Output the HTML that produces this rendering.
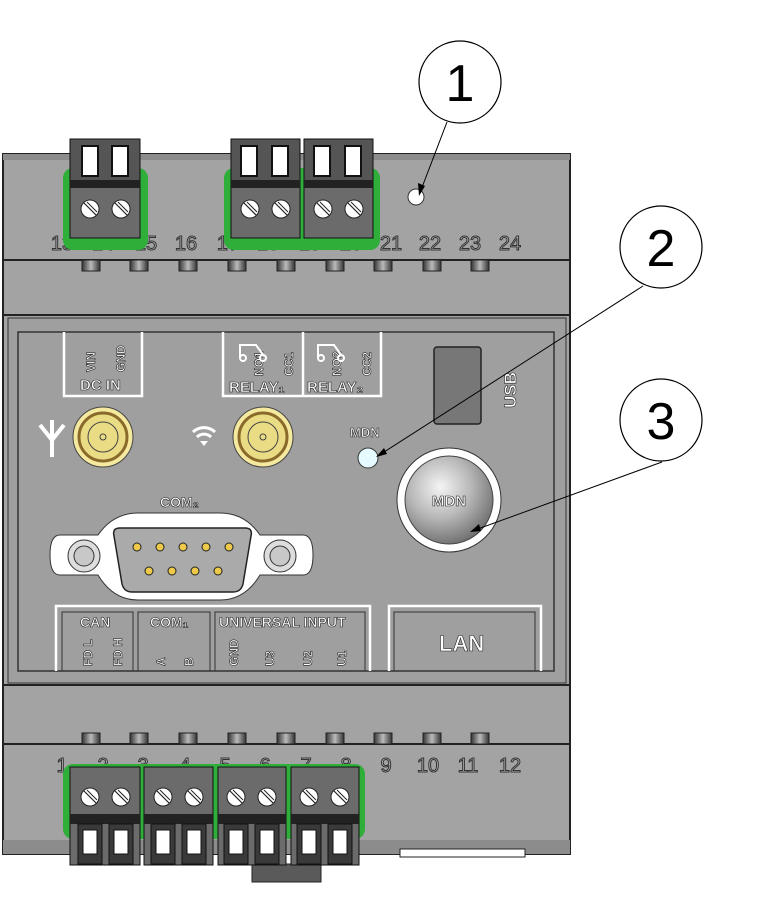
<!DOCTYPE html>
<html><head><meta charset="utf-8"><style>
html,body{margin:0;padding:0;background:#fff}
svg{display:block}
text{font-family:"Liberation Sans",sans-serif}
</style></head><body>
<svg width="759" height="909" viewBox="0 0 759 909" xmlns="http://www.w3.org/2000/svg">
<defs>
<radialGradient id="btn" cx="0.4" cy="0.35" r="0.7"><stop offset="0" stop-color="#f4f4f4"/><stop offset="0.5" stop-color="#b8b8b8"/><stop offset="1" stop-color="#6a6a6a"/></radialGradient>
<linearGradient id="peg" x1="0" x2="1"><stop offset="0" stop-color="#333"/><stop offset="0.5" stop-color="#bbb"/><stop offset="1" stop-color="#333"/></linearGradient>
<g id="scr"><circle r="9" fill="#fff" stroke="#222" stroke-width="1"/><line x1="-6" y1="-6" x2="6" y2="6" stroke="#222" stroke-width="1.2"/><line x1="-3" y1="-7" x2="7" y2="3" stroke="#222" stroke-width="1"/></g>
<g id="sock"><rect x="-12" y="0" width="24" height="40" fill="#3a3a3a" stroke="#111"/><rect x="-7" y="6" width="14" height="24" fill="#fff" stroke="#111"/></g>
</defs>
<rect x="3" y="154" width="567" height="700" fill="#a3a3a3" stroke="#222" stroke-width="2"/>
<line x1="3" y1="260" x2="570" y2="260" stroke="#222" stroke-width="2"/>
<line x1="3" y1="315" x2="570" y2="315" stroke="#222" stroke-width="2"/>
<rect x="8" y="318" width="558" height="365" fill="#9f9f9f" stroke="#333"/>
<line x1="3" y1="685" x2="570" y2="685" stroke="#222" stroke-width="2"/>
<line x1="3" y1="744" x2="570" y2="744" stroke="#222" stroke-width="2"/>
<rect x="3" y="154" width="567" height="6" fill="#8c8c8c"/>
<rect x="3" y="840" width="567" height="14" fill="#8c8c8c"/>
<rect x="400" y="849" width="125" height="8" fill="#fff" stroke="#222"/>
<rect x="252" y="864" width="69" height="18" fill="#5a5a5a" stroke="#222"/>
<g fill="url(#peg)" stroke="#222">
<rect x="82" y="260" width="18" height="11"/><rect x="130" y="260" width="18" height="11"/><rect x="179" y="260" width="18" height="11"/><rect x="228" y="260" width="18" height="11"/><rect x="277" y="260" width="18" height="11"/><rect x="326" y="260" width="18" height="11"/><rect x="374" y="260" width="18" height="11"/><rect x="423" y="260" width="18" height="11"/><rect x="471" y="260" width="18" height="11"/>
<rect x="82" y="733" width="18" height="11"/><rect x="130" y="733" width="18" height="11"/><rect x="179" y="733" width="18" height="11"/><rect x="228" y="733" width="18" height="11"/><rect x="277" y="733" width="18" height="11"/><rect x="326" y="733" width="18" height="11"/><rect x="374" y="733" width="18" height="11"/><rect x="423" y="733" width="18" height="11"/><rect x="471" y="733" width="18" height="11"/>
</g>
<g font-size="20" fill="#b5b5b5" stroke="#333" stroke-width="1" text-anchor="middle">
<text x="62" y="250">13</text><text x="103" y="250">14</text><text x="146" y="250">15</text><text x="186" y="250">16</text><text x="228" y="250">17</text><text x="268" y="250">18</text><text x="310" y="250">19</text><text x="351" y="250">20</text><text x="391" y="250">21</text><text x="430" y="250">22</text><text x="470" y="250">23</text><text x="510" y="250">24</text>
<text x="62" y="772">1</text><text x="103" y="772">2</text><text x="143" y="772">3</text><text x="185" y="772">4</text><text x="225" y="772">5</text><text x="265" y="772">6</text><text x="306" y="772">7</text><text x="346" y="772">8</text><text x="386" y="772">9</text><text x="428" y="772">10</text><text x="468" y="772">11</text><text x="510" y="772">12</text>
</g>
<rect x="63" y="168" width="85" height="82" rx="10" fill="#2fae3a"/>
<rect x="224" y="168" width="156" height="82" rx="10" fill="#2fae3a"/>
<g>
<rect x="70" y="139" width="70" height="44" fill="#555" stroke="#111"/>
<rect x="70" y="182" width="70" height="56" fill="#6b6b6b" stroke="#111"/>
<rect x="70" y="180" width="70" height="8" fill="#222"/>
<rect x="231" y="139" width="69" height="44" fill="#555" stroke="#111"/>
<rect x="231" y="182" width="69" height="56" fill="#6b6b6b" stroke="#111"/>
<rect x="231" y="180" width="69" height="8" fill="#222"/>
<rect x="304" y="139" width="69" height="44" fill="#555" stroke="#111"/>
<rect x="304" y="182" width="69" height="56" fill="#6b6b6b" stroke="#111"/>
<rect x="304" y="180" width="69" height="8" fill="#222"/>
</g>
<g fill="#fff" stroke="#111" stroke-width="2">
<rect x="82" y="146" width="16" height="30"/><rect x="112" y="146" width="16" height="30"/>
<rect x="241" y="146" width="16" height="30"/><rect x="272" y="146" width="16" height="30"/>
<rect x="314" y="146" width="16" height="30"/><rect x="345" y="146" width="16" height="30"/>
</g>
<use href="#scr" x="90" y="209"/><use href="#scr" x="121" y="209"/>
<use href="#scr" x="250" y="209"/><use href="#scr" x="281" y="209"/>
<use href="#scr" x="323" y="209"/><use href="#scr" x="354" y="209"/>
<circle cx="416" cy="197" r="8" fill="#fff" stroke="#333"/>
<rect x="18" y="332" width="536" height="339" fill="none" stroke="#333" stroke-width="1.5"/>
<g fill="none" stroke="#fff" stroke-width="2.5">
<polyline points="64,332 64,396 142,396 142,332"/>
<polyline points="223,332 223,396 381,396 381,332"/>
<line x1="303" y1="332" x2="303" y2="396"/>
<polyline points="56,671 56,606 370,606 370,671"/>
<polyline points="389,671 389,606 541,606 541,671"/>
</g>
<g fill="none" stroke="#333" stroke-width="1">
<polyline points="62,671 62,612 133,612 133,671"/><polyline points="138,671 138,612 210,612 210,671"/><polyline points="215,671 215,612 365,612 365,671"/>
<polyline points="394,671 394,612 535,612 535,671"/>
</g>
<g fill="#fff" stroke="#222" stroke-width="0.6" font-weight="bold">
<text x="80" y="390" font-size="15">DC IN</text>
<text transform="translate(95,372) rotate(-90)" font-size="12">VIN</text>
<text transform="translate(125,372) rotate(-90)" font-size="12">GND</text>
<text x="229" y="392" font-size="15">RELAY₁</text>
<text x="307" y="392" font-size="15">RELAY₂</text>
<text transform="translate(263,376) rotate(-90)" font-size="12">NO1</text>
<text transform="translate(293,376) rotate(-90)" font-size="12">CC1</text>
<text transform="translate(341,376) rotate(-90)" font-size="12">NO2</text>
<text transform="translate(371,376) rotate(-90)" font-size="12">CC2</text>
<text transform="translate(516,408) rotate(-90)" font-size="17">USB</text>
<text x="80" y="627" font-size="14">CAN</text>
<text x="150" y="627" font-size="14">COM₁</text>
<text x="219" y="627" font-size="14">UNIVERSAL INPUT</text>
<text transform="translate(92,666) rotate(-90)" font-size="12">FD L</text>
<text transform="translate(122,666) rotate(-90)" font-size="12">FD H</text>
<text transform="translate(165,666) rotate(-90)" font-size="12">A</text>
<text transform="translate(193,666) rotate(-90)" font-size="12">B</text>
<text transform="translate(238,666) rotate(-90)" font-size="12">GND</text>
<text transform="translate(274,666) rotate(-90)" font-size="12">U3</text>
<text transform="translate(312,666) rotate(-90)" font-size="12">U2</text>
<text transform="translate(346,666) rotate(-90)" font-size="12">U1</text>
<text x="439" y="651" font-size="22">LAN</text>
<text x="350" y="437" font-size="13">MDN</text>
<text x="160" y="507" font-size="14">COM₂</text>
</g>
<g fill="none" stroke="#fff" stroke-width="2">
<polyline points="240,358 240,345 256,345 264,356"/><circle cx="243" cy="358" r="3"/><circle cx="263" cy="358" r="3"/>
<polyline points="318,358 318,345 334,345 342,356"/><circle cx="321" cy="358" r="3"/><circle cx="341" cy="358" r="3"/>
</g>
<rect x="434" y="347" width="47" height="77" rx="3" fill="#777" stroke="#222" stroke-width="1.5"/>
<g stroke="#fff" stroke-width="4" fill="none"><line x1="52" y1="420" x2="52" y2="457"/><polyline points="40,425 52,440 64,425"/></g>
<path d="M193,432 a16,16 0 0 1 22,0 M197,437 a10,10 0 0 1 14,0" stroke="#fff" stroke-width="3" fill="none"/><path d="M200,441 l4,5 4,-5z" fill="#fff"/>
<g stroke="#444"><circle cx="103" cy="437" r="30" fill="#f5e9a0"/><circle cx="103" cy="437" r="24" fill="#eadc84" stroke="#8a6a2a" stroke-width="3"/><circle cx="103" cy="437" r="15" fill="none"/><circle cx="103" cy="437" r="3" fill="none"/>
<circle cx="263" cy="437" r="30" fill="#f5e9a0"/><circle cx="263" cy="437" r="24" fill="#eadc84" stroke="#8a6a2a" stroke-width="3"/><circle cx="263" cy="437" r="15" fill="none"/><circle cx="263" cy="437" r="3" fill="none"/></g>
<circle cx="368" cy="458" r="10" fill="#e6fbff" stroke="#333"/>
<circle cx="449" cy="500" r="52" fill="#fff" stroke="#333"/>
<circle cx="449" cy="500" r="44" fill="url(#btn)" stroke="#444"/>
<text x="449" y="506" font-size="15" font-weight="bold" text-anchor="middle" fill="#fff" stroke="#222" stroke-width="0.6">MDN</text>
<path d="M60,535 h38 q15,-22 40,-22 h82 q25,0 40,22 h43 q10,0 10,20 q0,20 -10,20 h-43 q-15,25 -40,25 h-82 q-25,0 -40,-25 h-38 q-10,0 -10,-20 q0,-20 10,-20z" fill="#fff" stroke="#333"/>
<path d="M120,528 h125 q8,0 6,8 l-8,48 q-2,8 -10,8 h-101 q-8,0 -10,-8 l-8,-48 q-2,-8 6,-8z" fill="#aaa" stroke="#222" stroke-width="1.5"/>
<g fill="#eec94a" stroke="#222"><circle cx="137" cy="547" r="4"/><circle cx="160" cy="547" r="4"/><circle cx="183" cy="547" r="4"/><circle cx="206" cy="547" r="4"/><circle cx="229" cy="547" r="4"/><circle cx="149" cy="571" r="4"/><circle cx="172" cy="571" r="4"/><circle cx="195" cy="571" r="4"/><circle cx="218" cy="571" r="4"/></g>
<g fill="#ddd" stroke="#333"><circle cx="84" cy="556" r="16"/><circle cx="84" cy="556" r="10" fill="#c8c8c8"/><circle cx="280" cy="556" r="16"/><circle cx="280" cy="556" r="10" fill="#c8c8c8"/></g>
<rect x="63" y="764" width="302" height="75" rx="10" fill="#2fae3a"/>
<g>
<rect x="70" y="767" width="70" height="98" fill="#6b6b6b" stroke="#111"/><rect x="144" y="767" width="69" height="98" fill="#6b6b6b" stroke="#111"/><rect x="218" y="767" width="68" height="98" fill="#6b6b6b" stroke="#111"/><rect x="291" y="767" width="68" height="98" fill="#6b6b6b" stroke="#111"/>
<rect x="70" y="814" width="70" height="10" fill="#222"/><rect x="144" y="814" width="69" height="10" fill="#222"/><rect x="218" y="814" width="68" height="10" fill="#222"/><rect x="291" y="814" width="68" height="10" fill="#222"/>
</g>
<use href="#sock" x="90" y="824"/><use href="#sock" x="121" y="824"/><use href="#sock" x="163" y="824"/><use href="#sock" x="194" y="824"/><use href="#sock" x="236" y="824"/><use href="#sock" x="267" y="824"/><use href="#sock" x="309" y="824"/><use href="#sock" x="340" y="824"/>
<use href="#scr" x="90" y="797"/><use href="#scr" x="121" y="797"/><use href="#scr" x="163" y="797"/><use href="#scr" x="194" y="797"/><use href="#scr" x="236" y="797"/><use href="#scr" x="267" y="797"/><use href="#scr" x="309" y="797"/><use href="#scr" x="340" y="797"/>
<g stroke="#000" stroke-width="1" fill="none">
<line x1="447" y1="122" x2="421" y2="190"/>
<line x1="643" y1="286" x2="381" y2="454"/>
<line x1="662" y1="462" x2="475" y2="530"/>
</g>
<g fill="#000"><path d="M419,196 l-1,-13 7,3z"/><path d="M376,457 l8,-9 3,6z"/><path d="M470,532 l9,-8 2,7z"/></g>
<g fill="#fff" stroke="#000" stroke-width="1.2"><circle cx="460" cy="82" r="41"/><circle cx="661" cy="247" r="41"/><circle cx="661" cy="420" r="41"/></g>
<g font-size="52" text-anchor="middle" fill="#000"><text x="460" y="101">1</text><text x="661" y="266">2</text><text x="661" y="439">3</text></g>
</svg>
</body></html>
